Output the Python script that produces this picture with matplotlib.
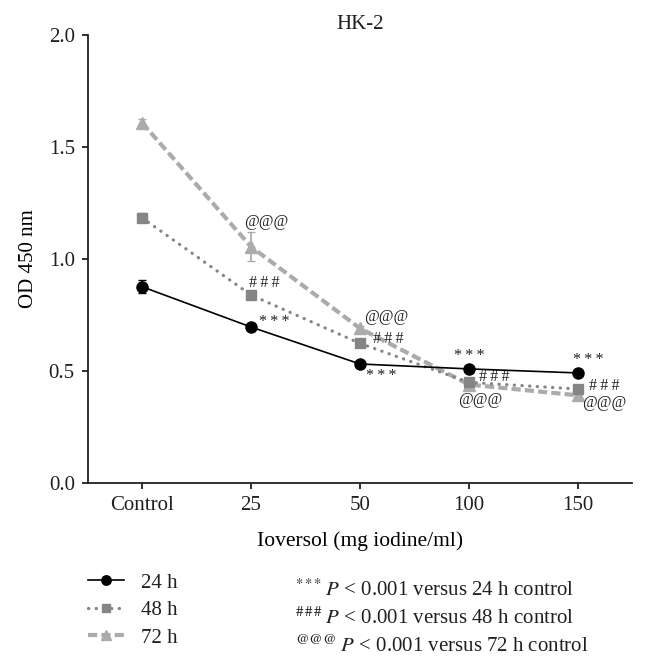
import numpy as np
import matplotlib
matplotlib.use("Agg")
import matplotlib.pyplot as plt

plt.rcParams['font.family'] = ['Liberation Serif', 'DejaVu Serif']
plt.rcParams['mathtext.fontset'] = 'stix'
plt.rcParams['text.color'] = '#231f20'

# data
groups = ['Control', '25', '50', '100', '150']
od_24h = [0.875, 0.695, 0.530, 0.508, 0.490]
od_48h = [1.183, 0.838, 0.622, 0.448, 0.418]
od_72h = [1.607, 1.054, 0.689, 0.438, 0.390]
err_24h = [0.028, 0.008, 0.008, 0.008, 0.008]
err_48h = [0.020, 0.008, 0.008, 0.008, 0.008]
err_72h = [0.015, 0.066, 0.010, 0.010, 0.010]
sig_24h = ['', '*\u2009*\u2009*', '*\u2009*\u2009*', '*\u2009*\u2009*', '*\u2009*\u2009*']
sig_48h = ['', '#\u2009#\u2009#', '#\u2009#\u2009#', '#\u2009#\u2009#', '#\u2009#\u2009#']
sig_72h = ['', '@@@', '@@@', '@@@', '@@@']

x = np.arange(len(groups))
ink = '#231f20'
c48 = '#858585'
c72 = '#ababab'

fig = plt.figure(figsize=(6.46, 6.67), dpi=100)
ax = fig.add_axes([88/646, 1-482.7/667, (632-88)/646, (482.7-34.7)/667])

l72 = ax.errorbar(x, od_72h, yerr=err_72h, color=c72, ls=(0, (2.2, 1.0)), lw=3,
                  marker='^', ms=8, capsize=3, elinewidth=1.3, zorder=2, label='72 h')
l48 = ax.errorbar(x, od_48h, yerr=err_48h, color=c48, ls=(0, (0.1, 2.3)), lw=2.3,
                  marker='s', ms=7.5, capsize=3, elinewidth=1.3, zorder=3, label='48 h')
l48[0].set_dash_capstyle('round')
l24 = ax.errorbar(x, od_24h, yerr=err_24h, color='black', ls='-', lw=1.2,
                  marker='o', ms=8, capsize=3, elinewidth=1.3, zorder=4, label='24 h')

# significance marks, offsets in points from each point
off_24 = [None, (17, 3.5), (15, -8.5), (0, 9.5), (7, 9)]
off_48 = [None, (9.5, 8.5), (20, 3), (18, 3.5), (19, 2.5)]
off_72 = [None, (11, 18), (19, 8), (8, -11), (19, -5.5)]
for s, v, offs in ((sig_24h, od_24h, off_24), (sig_48h, od_48h, off_48), (sig_72h, od_72h, off_72)):
    for i in range(1, len(groups)):
        ax.annotate(s[i], (x[i], v[i]), xytext=offs[i], textcoords='offset points',
                    ha='center', va='center', fontsize=11.5, color=ink)

ax.set_xlim(-0.495, 4.495)
ax.set_ylim(0, 2.0)
ax.set_xticks(x)
ax.set_xticklabels(groups)
ax.set_yticks(np.arange(0, 2.01, 0.5))
ax.set_yticklabels(['%.1f' % t for t in np.arange(0, 2.01, 0.5)])
for sp in ['top', 'right']:
    ax.spines[sp].set_visible(False)
for sp in ['left', 'bottom']:
    ax.spines[sp].set_linewidth(1.3)
    ax.spines[sp].set_color(ink)
ax.tick_params(direction='out', length=4.5, width=1.3, labelsize=15, colors=ink, pad=5)
ax.set_xlabel('Ioversol (mg iodine/ml)', fontsize=15.5, labelpad=12)
ax.set_ylabel('OD 450 nm', fontsize=15, labelpad=8)
ax.set_title('HK-2', fontsize=15, pad=4)

fig.legend(handles=[l24[0], l48[0], l72[0]], labels=['24 h', '48 h', '72 h'],
           loc='upper left', bbox_to_anchor=(88/646, 1-573/667), frameon=False,
           fontsize=15, borderpad=0, borderaxespad=0, handlelength=1.75,
           labelspacing=0.38, handletextpad=0.8, markerscale=0.85)

notes = [r'$^{{*}\,{*}\,{*}}$', r'$^{\#\,\#\,\#}$', r'$^{@@@}$']
hours = ['24', '48', '72']
for k in range(3):
    fig.text(295/646, 1-(590 + 28*k)/667,
             notes[k] + r'$\;P$' + ' < 0.001 versus %s h control' % hours[k],
             fontsize=15, va='center', ha='left')

fig.savefig('out.png', dpi=100)
